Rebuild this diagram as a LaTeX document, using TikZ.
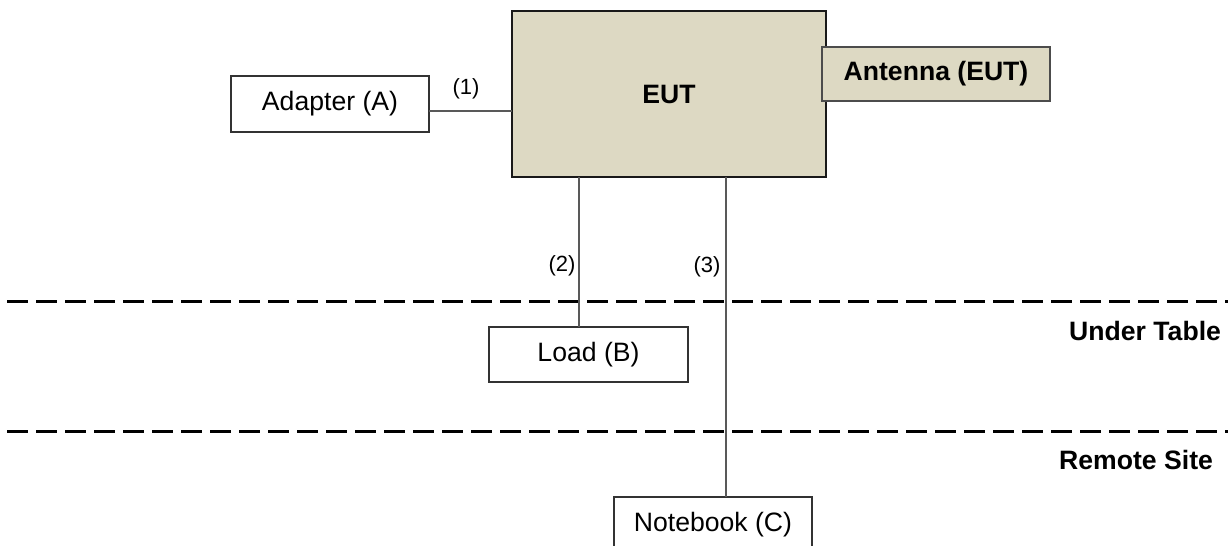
\documentclass[tikz,border=0pt]{standalone}
\usepackage{fontspec}
\setmainfont{Liberation Sans}
\usetikzlibrary{calc,positioning}
\definecolor{tanfill}{HTML}{DDD9C3}
\definecolor{wiregray}{HTML}{595959}

\begin{document}
\begin{tikzpicture}[x=0.5pt,y=-0.5pt,
  font=\fontsize{13.3}{15}\selectfont,
  box/.style={draw=black!80,line width=0.6pt,fill=white,inner sep=0pt,outer sep=0pt},
  eutbox/.style={draw=black!90,line width=1.1pt,fill=tanfill,inner sep=0pt,outer sep=0pt,font=\fontsize{13.3}{15}\selectfont\bfseries},
  antbox/.style={draw=black!70,line width=0.6pt,fill=tanfill,inner sep=0pt,outer sep=0pt,font=\fontsize{13.3}{15}\selectfont\bfseries},
  wire/.style={draw=wiregray,line width=0.8pt},
  bound/.style={line width=1.5pt,dash pattern=on 10.5pt off 4pt},
  cable/.style={font=\fontsize{11}{13}\selectfont},
  zone/.style={anchor=east,font=\fontsize{13.3}{15}\selectfont\bfseries}]
  \useasboundingbox (0,0) rectangle (1232,546);
  \clip (0,0) rectangle (1232,546);
  % --- zones ---
  \draw[bound] (7,301) -- (1228,301);
  \draw[bound] (7,431) -- (1228,431);
  \node[zone] (under) at (1228,331) {Under Table};
  \node[zone] (remote) at (1220,460) {Remote Site};
  % --- units ---
  \node[eutbox,minimum width=157pt,minimum height=83pt] (eut) at (669,94) {EUT};
  \node[antbox,minimum width=114pt,minimum height=27pt] (antenna) at (936,74) {Antenna (EUT)};
  \node[box,minimum width=99pt,minimum height=28pt] (adapter) at (330,104) {Adapter (A)};
  \node[box,minimum width=99.5pt,minimum height=27.5pt] (load) at (588.5,354.5) {Load (B)};
  \node[box,minimum width=99pt,minimum height=27.5pt] (notebook) at (713,524.5) {Notebook (C)};
  % --- cables ---
  \draw[wire] ([yshift=-3.5pt]adapter.east) -- ([yshift=-3.5pt]adapter.east -| eut.west);
  \draw[wire] ([xshift=-45pt]eut.south) -- ([xshift=-45pt]eut.south |- load.north);
  \draw[wire] ([xshift=28.5pt]eut.south) -- ([xshift=28.5pt]eut.south |- notebook.north);
  \node[cable] (c1) at (466,89) {(1)};
  \node[cable] (c2) at (562,266) {(2)};
  \node[cable] (c3) at (707,267) {(3)};
\end{tikzpicture}
\end{document}
